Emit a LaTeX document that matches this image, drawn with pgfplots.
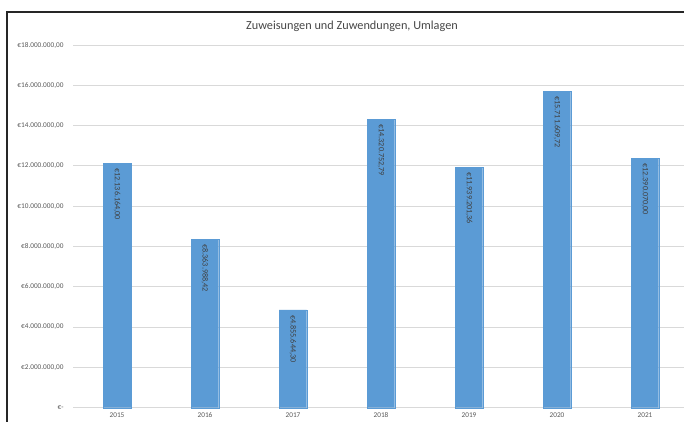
\documentclass[border=0pt]{standalone}
\usepackage{fontspec}
\setmainfont{Carlito}
\usepackage{pgfplots}
\usepackage{pgfplotstable}
\pgfplotsset{compat=1.18}
\definecolor{barblue}{HTML}{5B9BD5}
\definecolor{gridgrey}{HTML}{D9D9D9}
\definecolor{ticktext}{HTML}{595959}
\definecolor{labeltext}{HTML}{404040}
\pgfplotstableread[col sep=space]{
x y lab
0 12136164.00 {€12.136.164,00}
1 8363988.42 {€8.363.988,42}
2 4855644.30 {€4.855.644,30}
3 14320752.79 {€14.320.752,79}
4 11939201.36 {€11.939.201,36}
5 15711609.72 {€15.711.609,72}
6 12390070.00 {€12.390.070,00}
}\datatable
\begin{document}
\begin{tikzpicture}
\useasboundingbox (0,0) rectangle (684bp,422bp);
\clip (0,0) rectangle (684bp,422bp);
\fill[white] (0,0) rectangle (684bp,422bp);
\begin{axis}[
  at={(73bp,14.3bp)}, anchor=south west,
  scale only axis,
  width=616bp, height=362.7bp,
  xmin=-0.5, xmax=6.5,
  ymin=0, ymax=18000000,
  axis line style={draw=none},
  major tick length=0pt,
  ymajorgrids,
  grid style={gridgrey, line width=0.8bp},
  xtick={0,...,6},
  xticklabels={2015,2016,2017,2018,2019,2020,2021},
  ytick={0,2000000,4000000,6000000,8000000,10000000,12000000,14000000,16000000,18000000},
  yticklabels={{€-\hspace{1.2em}},{€2.000.000,00},{€4.000.000,00},{€6.000.000,00},{€8.000.000,00},{€10.000.000,00},{€12.000.000,00},{€14.000.000,00},{€16.000.000,00},{€18.000.000,00}},
  ticklabel style={font=\fontsize{7.3}{8}\selectfont, text=ticktext},
  yticklabel style={xshift=-6bp},
  xticklabel style={yshift=-1.5bp},
  scaled y ticks=false,
  clip=false,
]
\addplot[ybar, bar width=27.5bp, fill=barblue, draw=barblue,
  nodes near coords,
  point meta=explicit symbolic,
  every node near coord/.style={yshift=-4bp, rotate=-90, anchor=west, font=\fontsize{8.2}{9}\selectfont, text=labeltext, inner sep=1bp},
] table[x=x, y=y, meta=lab] {\datatable};
\end{axis}
\node[font=\fontsize{12.3}{14}\selectfont, text=ticktext!80!black] at (352bp,396bp) {Zuweisungen und Zuwendungen, Umlagen};
\draw[line width=1.3bp, black!85] (7bp,-5bp) -- (7bp,410bp) -- (700bp,410bp);
\end{tikzpicture}
\end{document}
